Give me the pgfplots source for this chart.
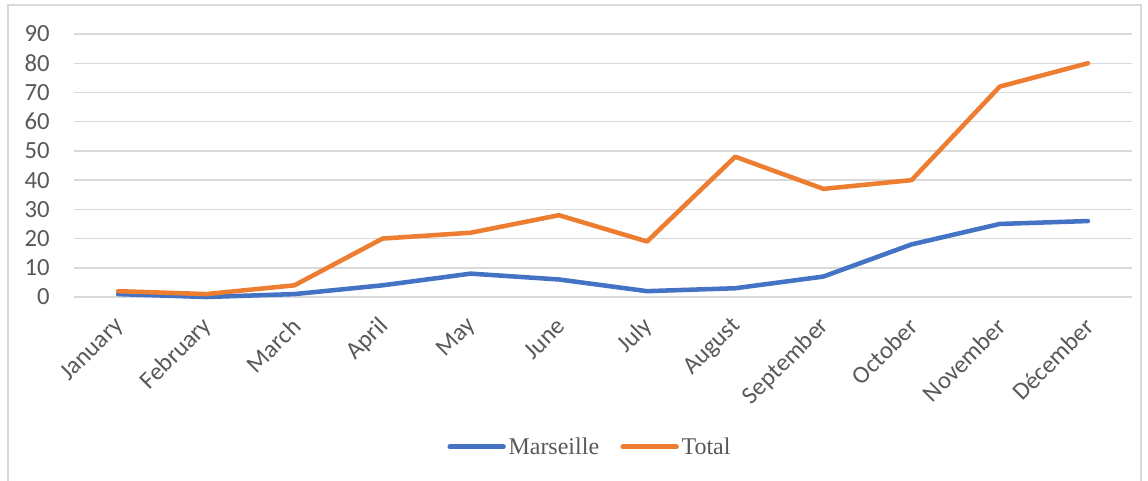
\documentclass[border=0pt]{standalone}
\usepackage{pgfplots}
\pgfplotsset{compat=1.18}
\usepackage{fontspec}
\setmainfont{Carlito}
\newfontfamily\legfont{Liberation Serif}
\definecolor{cblue}{HTML}{4472C4}
\definecolor{corange}{HTML}{ED7D31}
\definecolor{cgrid}{HTML}{D9D9D9}
\definecolor{ctick}{HTML}{595959}
\begin{document}
\begin{tikzpicture}
\useasboundingbox (-55.5pt,-137.25pt) rectangle (805.5pt,222.75pt);
\fill[white] (-55.5pt,-137.25pt) rectangle (805.5pt,222.75pt);
\draw[cgrid, line width=1.2pt] (-49.5pt,-140pt) rectangle (800.25pt,219pt);
\begin{axis}[
  at={(0,0)}, anchor=south west,
  scale only axis, width=793.5pt, height=197.25pt,
  xmin=-0.5, xmax=11.5, ymin=0, ymax=90,
  xtick={0,...,11},
  xticklabels={January,February,March,April,May,June,July,August,September,October,November,Décember},
  ytick={0,10,...,90},
  axis line style={draw=none},
  major tick length=0pt,
  ymajorgrids, grid style={cgrid, line width=1.1pt},
  tick label style={font=\fontsize{18.5}{21}\selectfont, text=ctick},
  xticklabel style={yshift=-19pt, xshift=1.5pt, rotate=45, anchor=east, inner sep=0pt},
  yticklabel style={anchor=east, inner sep=0pt, xshift=-18pt},
  /pgf/number format/assume math mode=true,
  clip=false,
  legend columns=2,
  legend style={at={(0.488,-0.57)}, anchor=center, draw=none, fill=none,
    font=\legfont\fontsize{18}{20}\selectfont, text=ctick,
    /tikz/every even column/.append style={column sep=14pt}},
  legend image code/.code={\draw[#1, line width=3.8pt, line cap=round] (0pt,0pt) -- (40pt,0pt);},
]
\addplot[cblue, line width=3.4pt, line join=round, line cap=round] coordinates {
 (0,1) (1,0) (2,1) (3,4) (4,8) (5,6) (6,2) (7,3) (8,7) (9,18) (10,25) (11,26)};
\addlegendentry{Marseille}
\addplot[corange, line width=3.4pt, line join=round, line cap=round] coordinates {
 (0,2) (1,1) (2,4) (3,20) (4,22) (5,28) (6,19) (7,48) (8,37) (9,40) (10,72) (11,80)};
\addlegendentry{Total}
\end{axis}
\end{tikzpicture}
\end{document}
